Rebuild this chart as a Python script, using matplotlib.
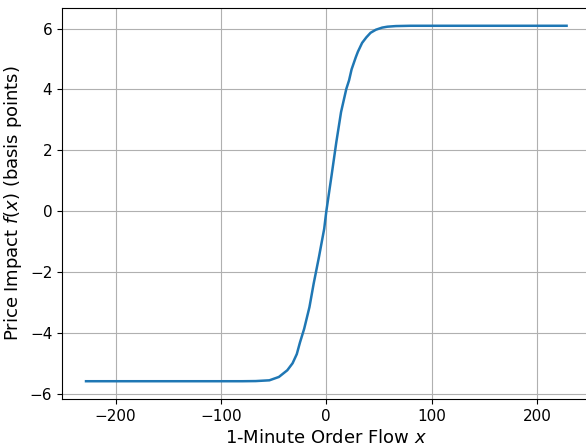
import matplotlib
matplotlib.use("Agg")
import matplotlib.pyplot as plt

# values
flow_x = [-228, -150, -100, -80, -67, -54, -45, -37, -32, -28, -25, -21, -16,
          -12, -7, -2, 0, 5, 9.5, 14, 19, 21.6, 24, 28, 30, 34, 38, 42, 47,
          53, 58, 66, 80, 100, 150, 228]
impact_y = [-5.57, -5.57, -5.57, -5.57, -5.565, -5.54, -5.43, -5.21, -4.98, -4.68,
            -4.30, -3.85, -3.14, -2.37, -1.50, -0.57, 0.0, 1.18, 2.27, 3.26, 4.02,
            4.30, 4.66, 5.06, 5.24, 5.53, 5.71, 5.86, 5.96, 6.03, 6.06, 6.08,
            6.09, 6.09, 6.09, 6.09]

fig = plt.figure(figsize=(5.86, 4.45), dpi=100)
ax = fig.add_axes([62 / 586, 1 - 399 / 445, 528.6 / 586, 391 / 445])
ax.plot(flow_x, impact_y, color="#1f77b4", lw=1.8)
ax.grid(True)
ax.tick_params(labelsize=11)
ax.set_xlabel("1-Minute Order Flow $x$", fontsize=13)
ax.set_ylabel("Price Impact $f(x)$ (basis points)", fontsize=13)

fig.savefig("out.png", dpi=100)
